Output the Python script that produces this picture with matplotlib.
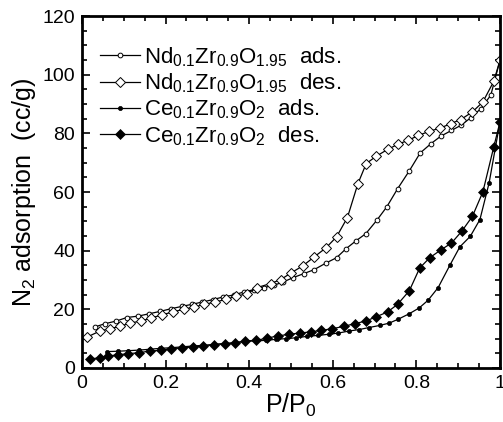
import matplotlib
matplotlib.use("Agg")
import matplotlib.pyplot as plt
from matplotlib.ticker import MultipleLocator

plt.rcParams['font.family'] = ['Liberation Sans', 'DejaVu Sans']
plt.rcParams['mathtext.fontset'] = 'custom'
plt.rcParams['mathtext.rm'] = 'Liberation Sans'
plt.rcParams['mathtext.it'] = 'Liberation Sans:italic'
plt.rcParams['mathtext.bf'] = 'Liberation Sans:bold'

# Nd0.1Zr0.9O1.95 adsorption
nd_ads_x = [0.031, 0.055, 0.082, 0.107, 0.135, 0.161, 0.187, 0.213, 0.239, 0.263, 0.288,
            0.313, 0.337, 0.363, 0.387, 0.411, 0.435, 0.459, 0.481, 0.505, 0.531, 0.555,
            0.584, 0.609, 0.632, 0.655, 0.679, 0.705, 0.729, 0.755, 0.783, 0.809, 0.835,
            0.858, 0.884, 0.906, 0.930, 0.954, 0.978, 1.0]
nd_ads_y = [14.0, 15.1, 16.0, 17.2, 17.7, 18.5, 19.3, 20.2, 21.0, 21.7, 22.5,
            23.3, 24.2, 24.9, 25.9, 26.7, 27.4, 28.2, 29.3, 30.8, 32.2, 33.5,
            35.8, 37.6, 40.7, 43.3, 45.8, 50.3, 54.9, 61.1, 67.2, 73.3, 76.5,
            79.0, 81.0, 82.7, 85.3, 88.4, 93.0, 104.9]

# Nd0.1Zr0.9O1.95 desorption
nd_des_x = [1.0, 0.985, 0.959, 0.934, 0.906, 0.882, 0.857, 0.831, 0.805, 0.780, 0.756,
            0.731, 0.704, 0.680, 0.660, 0.635, 0.609, 0.584, 0.555, 0.528, 0.500, 0.475,
            0.451, 0.419, 0.395, 0.369, 0.345, 0.319, 0.293, 0.269, 0.243, 0.217, 0.191,
            0.165, 0.141, 0.115, 0.091, 0.067, 0.043, 0.013]
nd_des_y = [104.9, 97.7, 90.7, 87.3, 84.7, 83.3, 81.8, 80.7, 79.3, 77.6, 76.3,
            74.5, 72.2, 69.7, 62.8, 51.3, 44.7, 41.0, 37.8, 34.8, 32.4, 30.1,
            28.8, 27.4, 25.3, 24.5, 23.4, 22.5, 21.7, 20.8, 20.0, 19.1, 18.1,
            17.0, 16.0, 15.3, 14.2, 13.4, 12.6, 10.6]

# Ce0.1Zr0.9O2 adsorption
ce_ads_x = [0.061, 0.085, 0.111, 0.137, 0.163, 0.187, 0.213, 0.239, 0.265, 0.289, 0.315,
            0.341, 0.367, 0.391, 0.416, 0.441, 0.465, 0.489, 0.513, 0.539, 0.564, 0.591,
            0.613, 0.639, 0.663, 0.687, 0.712, 0.735, 0.756, 0.783, 0.807, 0.828, 0.852,
            0.880, 0.904, 0.929, 0.952, 0.974, 1.0]
ce_ads_y = [5.6, 5.7, 5.9, 6.1, 6.4, 6.7, 6.9, 7.2, 7.5, 7.7, 8.0,
            8.3, 8.6, 9.1, 9.3, 9.4, 9.8, 10.0, 10.3, 10.8, 11.1, 11.5,
            11.9, 12.6, 13.1, 13.8, 14.5, 15.3, 16.6, 18.5, 20.5, 23.1, 27.4,
            35.0, 41.3, 44.9, 50.6, 63.1, 83.9]

# Ce0.1Zr0.9O2 desorption
ce_des_x = [1.0, 0.985, 0.959, 0.934, 0.909, 0.884, 0.859, 0.832, 0.808, 0.783, 0.755,
            0.731, 0.703, 0.679, 0.652, 0.627, 0.599, 0.572, 0.547, 0.521, 0.496, 0.468,
            0.443, 0.417, 0.391, 0.367, 0.341, 0.315, 0.289, 0.265, 0.239, 0.213, 0.188,
            0.163, 0.137, 0.111, 0.087, 0.063, 0.042, 0.018]
ce_des_y = [83.9, 75.3, 60.0, 51.7, 46.7, 42.6, 40.3, 37.6, 34.1, 26.3, 21.7,
            19.1, 17.4, 16.0, 15.1, 14.2, 13.4, 12.8, 12.3, 11.9, 11.5, 10.9,
            10.2, 9.4, 9.2, 8.6, 8.3, 8.0, 7.5, 7.2, 6.8, 6.6, 6.0,
            5.8, 5.2, 4.9, 4.5, 4.1, 3.5, 3.0]

labels = [r'Nd$_{0.1}$Zr$_{0.9}$O$_{1.95}$  ads.',
          r'Nd$_{0.1}$Zr$_{0.9}$O$_{1.95}$  des.',
          r'Ce$_{0.1}$Zr$_{0.9}$O$_{2}$  ads.',
          r'Ce$_{0.1}$Zr$_{0.9}$O$_{2}$  des.']

fig = plt.figure(figsize=(5.03, 4.22), dpi=100)
ax = fig.add_axes([0.163, 0.128, 0.831, 0.834])

lw = 0.9
ax.plot(nd_ads_x, nd_ads_y, '-o', color='black', lw=lw, ms=3.4,
        mfc='white', mec='black', mew=0.7, label=labels[0])
ax.plot(nd_des_x, nd_des_y, '-D', color='black', lw=lw, ms=4.6,
        mfc='white', mec='black', mew=0.7, label=labels[1])
ax.plot(ce_ads_x, ce_ads_y, '-o', color='black', lw=lw, ms=3.0,
        mfc='black', mec='black', mew=0.5, label=labels[2])
ax.plot(ce_des_x, ce_des_y, '-D', color='black', lw=lw, ms=4.8,
        mfc='black', mec='black', mew=0.5, label=labels[3])

ax.set_xlim(0, 1)
ax.set_ylim(0, 120)
ax.xaxis.set_major_locator(MultipleLocator(0.2))
ax.xaxis.set_minor_locator(MultipleLocator(0.05))
ax.yaxis.set_major_locator(MultipleLocator(20))
ax.yaxis.set_minor_locator(MultipleLocator(5))
ax.set_xticks([0, 0.2, 0.4, 0.6, 0.8, 1.0])
ax.set_xticklabels(['0', '0.2', '0.4', '0.6', '0.8', '1'])

ax.tick_params(which='both', direction='in', top=True, right=True, labelsize=14, width=1.2)
ax.tick_params(which='major', length=6, pad=5)
ax.tick_params(which='minor', length=3.5)
for s in ax.spines.values():
    s.set_linewidth(2.0)

ax.set_xlabel(r'P/P$_0$', fontsize=18, labelpad=0)
ax.set_ylabel(r'N$_2$ adsorption  (cc/g)', fontsize=18, labelpad=3)

leg = ax.legend(loc='upper left', bbox_to_anchor=(0.01, 0.955), frameon=False,
                fontsize=16, handlelength=1.8, handletextpad=0.2,
                labelspacing=0.12, borderaxespad=0.2)

fig.savefig('out.png', dpi=100)
